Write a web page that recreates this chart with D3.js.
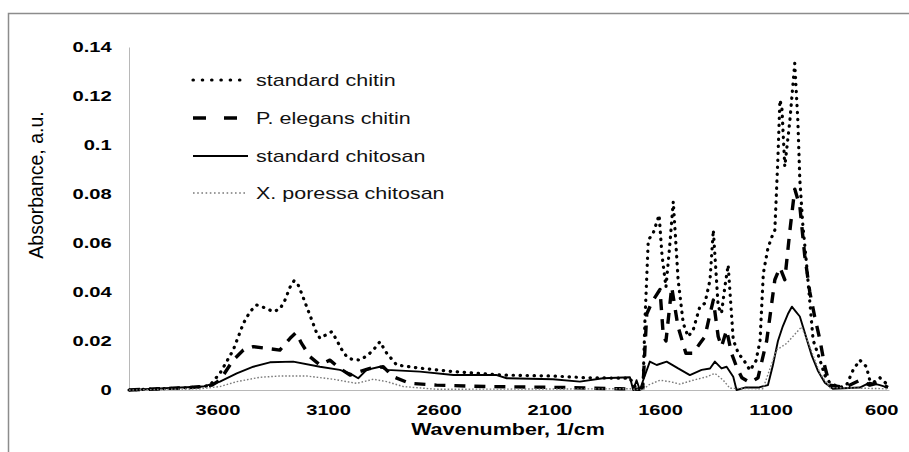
<!DOCTYPE html>
<html>
<head>
<meta charset="utf-8">
<script src="https://cdn.jsdelivr.net/npm/d3@7/dist/d3.min.js"></script>
<style>
  body { margin: 0; background: #fff; }
  text { font-family: "Liberation Sans", Arial, sans-serif; }
</style>
</head>
<body>
<div id="chart"></div>
<script>
// ticks
var xTicks = [3600, 3100, 2600, 2100, 1600, 1100, 600];
var yTicks = [0, 0.02, 0.04, 0.06, 0.08, 0.1, 0.12, 0.14];

var seriesNames = ["standard chitin", "P. elegans chitin", "standard chitosan", "X. poressa chitosan"];

// standard chitin (heavy dots)
var chitinWn = [4000, 3860, 3724, 3657, 3634, 3589, 3529, 3483, 3453, 3423, 3385, 3348, 3318, 3295, 3272, 3254, 3236, 3220, 3197, 3174, 3155, 3137, 3110, 3084, 3061, 3042, 3016, 2992, 2956, 2924, 2896, 2866, 2835, 2790, 2685, 2534, 2309, 2083, 1932, 1736, 1718, 1700, 1677, 1668, 1653, 1631, 1604, 1591, 1573, 1555, 1540, 1518, 1495, 1473, 1450, 1420, 1397, 1374, 1359, 1337, 1322, 1307, 1292, 1269, 1246, 1220, 1193, 1166, 1148, 1133, 1112, 1094, 1081, 1067, 1058, 1049, 1036, 1013, 991, 977, 968, 955, 938, 908, 877, 855, 833, 788, 757, 728, 697, 667, 652, 636, 606, 570];
var chitinAbs = [0, 0.0005, 0.001, 0.0015, 0.002, 0.0068, 0.0163, 0.0272, 0.032, 0.0347, 0.0335, 0.032, 0.033, 0.0367, 0.042, 0.0446, 0.043, 0.0395, 0.034, 0.0286, 0.024, 0.0211, 0.0225, 0.0238, 0.0204, 0.017, 0.0136, 0.0125, 0.0122, 0.014, 0.0163, 0.0197, 0.015, 0.0102, 0.0089, 0.0075, 0.0061, 0.0057, 0.005, 0.0048, 0.002, 0, 0.001, 0.0286, 0.0612, 0.064, 0.0714, 0.055, 0.042, 0.06, 0.0769, 0.0449, 0.0272, 0.0218, 0.0245, 0.034, 0.0354, 0.0449, 0.0653, 0.034, 0.0313, 0.042, 0.051, 0.0204, 0.015, 0.012, 0.008, 0.012, 0.02, 0.0476, 0.058, 0.0626, 0.0653, 0.095, 0.1184, 0.115, 0.0912, 0.11, 0.1333, 0.11, 0.0857, 0.068, 0.0517, 0.0204, 0.0122, 0.006, 0.003, 0.001, 0.002, 0.008, 0.0122, 0.0095, 0.004, 0.003, 0.005, 0.002];

// P. elegans chitin (long dashes)
var elegansWn = [4000, 3724, 3657, 3625, 3589, 3529, 3483, 3438, 3378, 3318, 3272, 3245, 3220, 3182, 3137, 3092, 3047, 3001, 2956, 2911, 2851, 2806, 2730, 2610, 2384, 2083, 1781, 1700, 1677, 1660, 1636, 1600, 1585, 1573, 1547, 1519, 1483, 1450, 1420, 1397, 1374, 1359, 1337, 1322, 1299, 1277, 1254, 1230, 1193, 1157, 1139, 1118, 1103, 1081, 1058, 1036, 1013, 991, 968, 946, 923, 901, 877, 855, 833, 765, 697, 652, 606, 570];
var elegansAbs = [0, 0.001, 0.0015, 0.002, 0.004, 0.0122, 0.0163, 0.0177, 0.017, 0.0163, 0.0211, 0.0234, 0.019, 0.0136, 0.0102, 0.0122, 0.0088, 0.0061, 0.0075, 0.0088, 0.0095, 0.0054, 0.0027, 0.002, 0.0014, 0.0011, 0.0005, 0.0003, 0.001, 0.031, 0.036, 0.041, 0.022, 0.02, 0.042, 0.026, 0.015, 0.015, 0.019, 0.0218, 0.031, 0.0367, 0.0218, 0.0177, 0.0245, 0.015, 0.0095, 0.005, 0.003, 0.005, 0.012, 0.02, 0.03, 0.045, 0.05, 0.045, 0.065, 0.082, 0.075, 0.055, 0.04, 0.03, 0.0204, 0.0095, 0.002, 0.001, 0.004, 0.002, 0.003, 0.001];

// standard chitosan (solid)
var chitosanWn = [4000, 3815, 3666, 3589, 3513, 3438, 3363, 3258, 3137, 3047, 3001, 2964, 2926, 2866, 2835, 2685, 2534, 2338, 2293, 2084, 1962, 1858, 1736, 1721, 1706, 1691, 1676, 1646, 1615, 1570, 1518, 1465, 1412, 1374, 1352, 1322, 1299, 1269, 1254, 1216, 1157, 1112, 1090, 1067, 1045, 1022, 1004, 986, 968, 941, 914, 887, 855, 819, 697, 652, 606, 570];
var chitosanAbs = [0, 0.0008, 0.0014, 0.0034, 0.0068, 0.0095, 0.0113, 0.0116, 0.0095, 0.0082, 0.0068, 0.0048, 0.0082, 0.0095, 0.0082, 0.0075, 0.0061, 0.0061, 0.0048, 0.0044, 0.0034, 0.0048, 0.0052, 0, 0.004, 0, 0.004, 0.0116, 0.0102, 0.0116, 0.0088, 0.0061, 0.0082, 0.0088, 0.0116, 0.0088, 0.0095, 0.0054, 0, 0.001, 0.001, 0.002, 0.01, 0.02, 0.026, 0.031, 0.034, 0.032, 0.03, 0.022, 0.014, 0.008, 0.003, 0.0005, 0.001, 0.003, 0.002, 0.001];

// X. poressa chitosan (fine grey dots)
var poressaWn = [4000, 3679, 3589, 3513, 3408, 3318, 3197, 3077, 2971, 2896, 2835, 2760, 2610, 1736, 1677, 1653, 1600, 1555, 1510, 1450, 1389, 1352, 1314, 1284, 1135, 1090, 1073, 1028, 960, 923, 877, 833, 570];
var poressaAbs = [0, 0.0005, 0.0014, 0.0034, 0.0052, 0.0057, 0.0057, 0.0044, 0.0027, 0.0044, 0.0034, 0.0014, 0.0003, 0.0005, 0, 0.002, 0.004, 0.0034, 0.0024, 0.004, 0.0054, 0.0068, 0.004, 0.0007, 0.0005, 0.012, 0.0163, 0.019, 0.0258, 0.0177, 0.0068, 0.001, 0.0005];

var W = 909, H = 452;
var svg = d3.select("#chart").append("svg")
	.attr("width", W)
	.attr("height", H);

// outer frame (left + top only visible)
svg.append("path")
	.attr("d", "M8.5," + H + "V13.5H" + W)
	.attr("fill", "none")
	.attr("stroke", "#8c8c8c")
	.attr("stroke-width", 1.5);

var x = d3.scaleLinear().domain([4000, 565]).range([129, 889]);
var y = d3.scaleLinear().domain([0, 0.14]).range([390, 47]);
var sx = 1.36; // source picture is stretched sideways

var yAxis = svg.append("g")
	.attr("transform", "translate(" + x(4000) + ",0)")
	.call(d3.axisLeft(y).tickValues(yTicks).tickSize(0).tickPadding(12.8)
		.tickFormat(function (d) { return String(+d.toFixed(2)); }));
var xAxis = svg.append("g")
	.attr("transform", "translate(0," + y(0) + ")")
	.call(d3.axisBottom(x).tickValues(xTicks).tickSize(0).tickPadding(14.2)
		.tickFormat(d3.format("d")));

[yAxis, xAxis].forEach(function (a) {
	a.select(".domain").attr("stroke", "#b8b8b8").attr("stroke-width", 1);
	a.selectAll("text")
		.attr("font-family", "Liberation Sans, Arial, sans-serif")
		.attr("font-size", "14.8px")
		.attr("font-weight", "bold")
		.attr("fill", "#000")
		.attr("transform", "scale(" + sx + ",1)");
});

var line = d3.line()
	.x(function (d) { return x(d[0]); })
	.y(function (d) { return y(d[1]); });

var styles = [
	{ wn: chitinWn, ab: chitinAbs, color: "#000", width: 3.2, dash: "0.4,6.6", cap: "round", legDash: "0.4,8.9", x2: 248 },
	{ wn: elegansWn, ab: elegansAbs, color: "#000", width: 3.4, dash: "11,9", cap: "butt", legDash: "13,18", x2: 238 },
	{ wn: chitosanWn, ab: chitosanAbs, color: "#000", width: 1.9, dash: null, cap: "butt", legDash: null, x2: 248 },
	{ wn: poressaWn, ab: poressaAbs, color: "#7a7a7a", width: 1.4, dash: "1.6,1.9", cap: "butt", legDash: "1.6,2.6", x2: 245 }
];

styles.forEach(function (s) {
	var pts = s.wn.map(function (w, i) { return [w, s.ab[i]]; });
	svg.append("path")
		.datum(pts)
		.attr("d", line)
		.attr("fill", "none")
		.attr("stroke", s.color)
		.attr("stroke-width", s.width)
		.attr("stroke-linecap", s.cap)
		.attr("stroke-linejoin", "round")
		.attr("stroke-dasharray", s.dash);
});

// legend
var legY = [80, 118, 156, 193];
styles.forEach(function (s, i) {
	svg.append("line")
		.attr("x1", 193).attr("x2", s.x2)
		.attr("y1", legY[i]).attr("y2", legY[i])
		.attr("stroke", s.color)
		.attr("stroke-width", s.width)
		.attr("stroke-linecap", s.cap)
		.attr("stroke-dasharray", s.legDash);
	svg.append("text")
		.attr("transform", "translate(256," + (legY[i] + 5.5) + ") scale(" + sx + ",1)")
		.attr("font-size", "15.8px")
		.attr("fill", "#111")
		.text(seriesNames[i]);
});

// axis titles
svg.append("text")
	.attr("transform", "translate(508,435) scale(" + sx + ",1)")
	.attr("text-anchor", "middle")
	.attr("font-size", "15.8px")
	.attr("font-weight", "bold")
	.text("Wavenumber, 1/cm");

svg.append("text")
	.attr("transform", "translate(42.5,185) rotate(-90)")
	.attr("text-anchor", "middle")
	.attr("font-size", "19.5px")
	.text("Absorbance, a.u.");
</script>
</body>
</html>
